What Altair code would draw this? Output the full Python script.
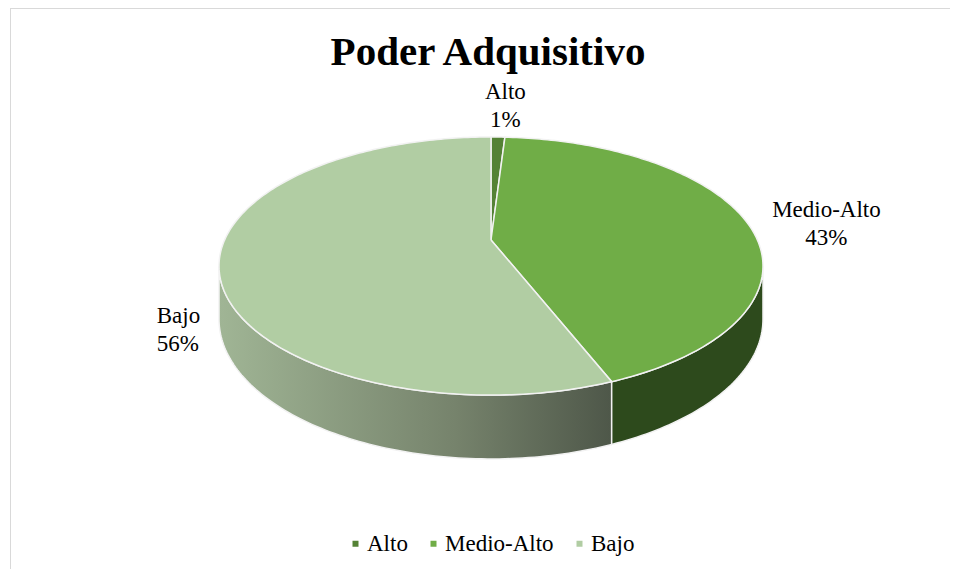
import numpy as np
import pandas as pd
import altair as alt

# ---------------- data ----------------
categories = ["Alto", "Medio-Alto", "Bajo"]
percentages = [1, 43, 56]
top_colors = ["#548235", "#70ad47", "#b1cda3"]
title_text = "Poder Adquisitivo"

# ---------------- geometry (plot pixel units) ----------------
W, H = 942, 561
CX, CY = 483, 232          # pie centre on screen
A, B, P, DEPTH = 266.4, 123.8, 0.2016, 51   # radii, perspective, thickness


def proj(t, down=0.0, r=1.0):
    f = 1.0 / (1.0 + P * r * np.cos(t))
    return (float(CX + r * A * np.sin(t) * f),
            float(CY - r * B * np.cos(t) * f + down * f))


total = float(sum(percentages))
fr = np.array(percentages) / total * 2 * np.pi
ends = np.cumsum(fr)
starts = ends - fr

top_rows, side_rows, label_rows = [], [], []
t_vis0 = np.arccos(-P)
t_vis1 = 2 * np.pi - t_vis0
for cat, pct, t1, t2 in zip(categories, percentages, starts, ends):
    n = max(4, int(np.degrees(t2 - t1)))
    ts = np.linspace(t1, t2, n + 1)
    pts = [(CX, CY)] + [proj(t) for t in ts] + [(CX, CY)]
    for k, (x, y) in enumerate(pts):
        top_rows.append(dict(category=cat, idx=k, x=x, y=y))
    a, b = max(t1, t_vis0), min(t2, t_vis1)
    if b > a:
        ts2 = np.linspace(a, b, max(4, int(np.degrees(b - a))) + 1)
        upper = [proj(t) for t in ts2]
        lower = [proj(t, DEPTH) for t in ts2[::-1]]
        for k, (x, y) in enumerate(upper + lower + [upper[0]]):
            side_rows.append(dict(category=cat, idx=k, x=x, y=y))
    tm = (t1 + t2) / 2
    lx, ly = proj(tm, r=1.25)
    label_rows.append(dict(category=cat, label=f"{cat}\n{pct}%", x=lx, y=ly))

top_df = pd.DataFrame(top_rows)
side_df = pd.DataFrame(side_rows)
label_df = pd.DataFrame(label_rows)

xs = alt.X("x:Q", scale=alt.Scale(domain=[0, W], nice=False, zero=False), axis=None)
ys = alt.Y("y:Q", scale=alt.Scale(domain=[0, H], reverse=True, nice=False, zero=False), axis=None)

bajo_grad = alt.Gradient(
    gradient="linear",
    stops=[alt.GradientStop(color="#a0b595", offset=0),
           alt.GradientStop(color="#76836c", offset=0.6),
           alt.GradientStop(color="#4e5749", offset=1)],
    x1=0, x2=1, y1=0, y2=0,
)

side_bajo = alt.Chart(side_df).transform_filter(alt.datum.category == "Bajo").mark_line(
    filled=True, fill=bajo_grad, stroke="#f2f2f2", strokeWidth=1.5
).encode(x=xs, y=ys, order=alt.Order("idx:Q"))

side_medio = alt.Chart(side_df).transform_filter(alt.datum.category == "Medio-Alto").mark_line(
    filled=True, fill="#2d4a1c", stroke="#f2f2f2", strokeWidth=1.5
).encode(x=xs, y=ys, order=alt.Order("idx:Q"))

top = alt.Chart(top_df).mark_line(filled=True, stroke="#f2f2f2", strokeWidth=1.5).encode(
    x=xs, y=ys, order=alt.Order("idx:Q"),
    color=alt.Color(
        "category:N",
        scale=alt.Scale(domain=categories, range=top_colors),
        legend=alt.Legend(
            orient="none", legendX=336, legendY=524, direction="horizontal",
            title=None, symbolType="square", symbolSize=36, symbolStrokeWidth=0,
            labelFont="Liberation Serif", labelFontSize=23, labelColor="black",
            columnPadding=14, labelOffset=0, padding=0,
        ),
    ),
)

text_style = dict(font="Liberation Serif", fontSize=23, color="black",
                  lineBreak="\n", lineHeight=28, baseline="alphabetic")
lab_alto = alt.Chart(label_df).transform_filter(alt.datum.category == "Alto").mark_text(
    align="center", dx=6, dy=-17.5, **text_style).encode(x=xs, y=ys, text="label:N")
lab_medio = alt.Chart(label_df).transform_filter(alt.datum.category == "Medio-Alto").mark_text(
    align="center", dx=19, dy=0.5, **text_style).encode(x=xs, y=ys, text="label:N")
lab_bajo = alt.Chart(label_df).transform_filter(alt.datum.category == "Bajo").mark_text(
    align="left", dx=9, dy=52.5, **text_style).encode(x=xs, y=ys, text="label:N")

one = pd.DataFrame({"t": [title_text]})
title = alt.Chart(one).mark_text(
    font="Liberation Serif", fontSize=41, fontWeight="bold", align="center",
    baseline="alphabetic", color="black"
).encode(text="t:N", x=alt.value(480), y=alt.value(57))

border_left = alt.Chart(one).mark_rule(color="#d9d9d9", strokeWidth=1).encode(
    x=alt.value(2.5), y=alt.value(0), y2=alt.value(H))
border_top = alt.Chart(one).mark_rule(color="#d9d9d9", strokeWidth=1).encode(
    x=alt.value(2), x2=alt.value(W), y=alt.value(0.5))

chart = alt.layer(
    border_left, border_top, side_bajo, side_medio, top, lab_alto, lab_medio, lab_bajo, title
).properties(
    width=W, height=H, padding=0, background="white",
    autosize=alt.AutoSizeParams(type="none"),
).configure_view(stroke=None)

chart.save("out.html", embed_options={"renderer": "svg", "actions": False})
